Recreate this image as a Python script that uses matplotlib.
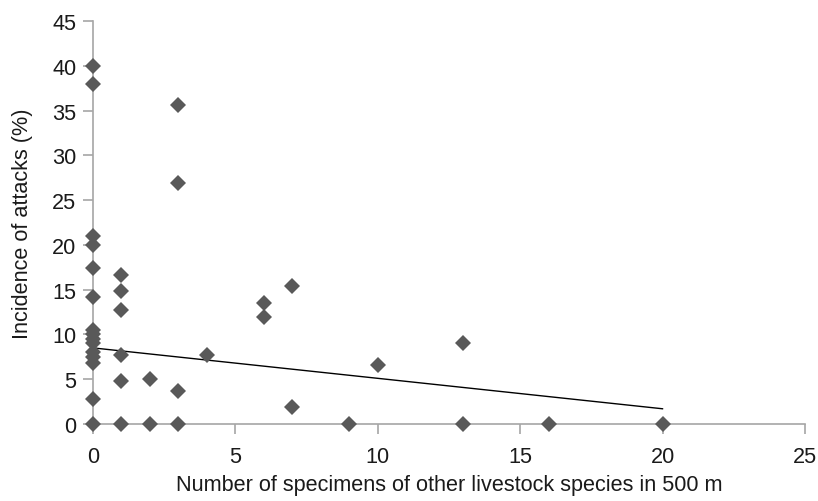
import matplotlib
matplotlib.use("Agg")
import matplotlib.pyplot as plt

# Data
x_values = [0]*15 + [1]*6 + [2]*2 + [3]*4 + [4] + [6]*2 + [7]*2 + [9] + [10] + [13]*2 + [16] + [20]
y_values = [40, 38, 21, 20, 17.4, 14.2, 10.5, 10, 9.5, 9, 8, 7.5, 6.8, 2.8, 0,
            16.6, 14.9, 12.7, 7.7, 4.8, 0,
            5.0, 0,
            35.6, 26.9, 3.7, 0,
            7.7,
            13.5, 11.9,
            15.4, 1.9,
            0,
            6.6,
            9.0, 0,
            0,
            0]
trend_x = [0, 20]
trend_y = [8.5, 1.7]
x_ticks = [0, 5, 10, 15, 20, 25]
y_ticks = [0, 5, 10, 15, 20, 25, 30, 35, 40, 45]

plt.rcParams['font.family'] = ['Liberation Sans', 'DejaVu Sans']
FS = 15.6

fig = plt.figure(figsize=(8.18, 5.02), dpi=100)
ax = fig.add_axes([0.1137, 0.1534, 0.984 - 0.1137, 0.956 - 0.1534])

ax.plot(trend_x, trend_y, color='black', linewidth=1.0, zorder=2)
ax.plot(x_values, y_values, linestyle='none', marker='D', markersize=8.3,
        color='#595959', markeredgewidth=0, zorder=3, clip_on=False)

ax.set_xlim(0, 25)
ax.set_ylim(0, 45)
ax.set_xticks(x_ticks)
ax.set_yticks(y_ticks)
for s in ['top', 'right']:
    ax.spines[s].set_visible(False)
for s in ['left', 'bottom']:
    ax.spines[s].set_color('#a6a6a6')
    ax.spines[s].set_linewidth(1.2)
ax.tick_params(axis='both', direction='out', length=7, width=1.2, color='#a6a6a6',
               labelsize=FS, labelcolor='#1a1a1a')
ax.tick_params(axis='x', pad=9)
ax.tick_params(axis='y', pad=5)

ax.set_xlabel('Number of specimens of other livestock species in 500 m', fontsize=FS,
              color='#1a1a1a', labelpad=5)
ax.set_ylabel('Incidence of attacks (%)', fontsize=FS, color='#1a1a1a', labelpad=14)

fig.savefig('out.png', dpi=100)
